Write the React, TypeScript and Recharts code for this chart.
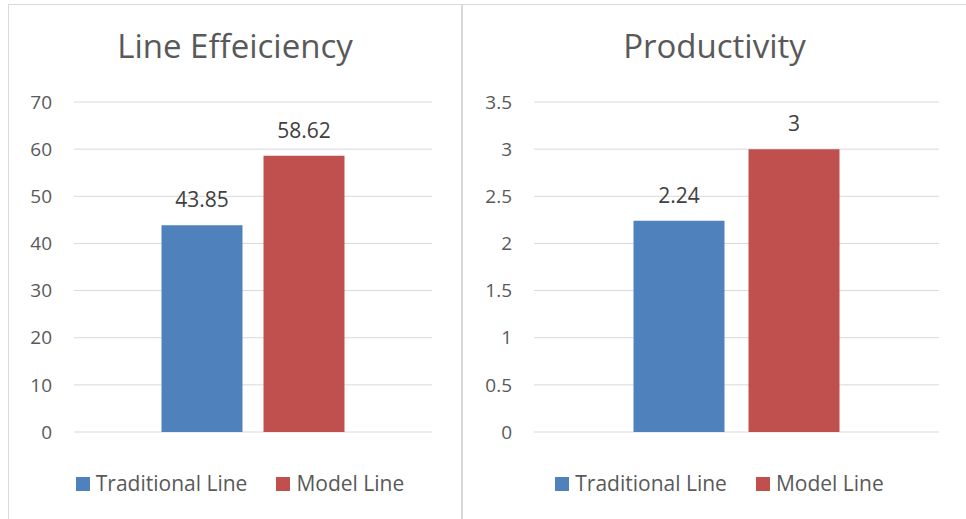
import { BarChart, Bar, XAxis, YAxis, CartesianGrid, LabelList } from "recharts";

const seriesNames = ["Traditional Line", "Model Line"];
const seriesColors = ["#4F81BD", "#C0504D"];

const efficiencyTitle = "Line Effeiciency";
const efficiencyValues = [43.85, 58.62];
const efficiencyTicks = [0, 10, 20, 30, 40, 50, 60, 70];

const productivityTitle = "Productivity";
const productivityValues = [2.24, 3];
const productivityTicks = [0, 0.5, 1, 1.5, 2, 2.5, 3, 3.5];

const font = "'Open Sans', 'DejaVu Sans', sans-serif";

type PanelProps = {
  title: string;
  values: number[];
  ticks: number[];
  left: number;
  width: number;
  axisWidth: number;
  rightMargin: number;
  gap: number;
  barGap: number;
};

function Panel({ title, values, ticks, left, width, axisWidth, rightMargin, gap, barGap }: PanelProps) {
  const data = [{ name: title, traditional: values[0], model: values[1] }];
  const max = ticks[ticks.length - 1];
  return (
    <div
      style={{
        position: "absolute",
        left,
        top: 4,
        width,
        height: 530,
        boxSizing: "border-box",
        border: "1px solid #d9d9d9",
        background: "#fff",
      }}
    >
      <div
        style={{
          position: "absolute",
          left: 0,
          right: 0,
          top: 21,
          textAlign: "center",
          fontSize: 33,
          lineHeight: "40px",
          color: "#595959",
        }}
      >
        {title}
      </div>
      <div style={{ position: "absolute", left: 0, top: 0 }}>
        <BarChart
          width={width - 2}
          height={520}
          data={data}
          margin={{ top: 97, right: rightMargin, bottom: 93, left: 0 }}
          barCategoryGap={gap}
          barGap={barGap}
        >
          <CartesianGrid vertical={false} stroke="#d9d9d9" />
          <XAxis dataKey="name" hide />
          <YAxis
            domain={[0, max]}
            ticks={ticks}
            width={axisWidth}
            axisLine={false}
            tickLine={false}
            tickMargin={16}
            tick={{ fill: "#595959", fontSize: 19 }}
          />
          <Bar dataKey="traditional" fill={seriesColors[0]} isAnimationActive={false}>
            <LabelList dataKey="traditional" position="top" offset={18} fill="#404040" fontSize={21} />
          </Bar>
          <Bar dataKey="model" fill={seriesColors[1]} isAnimationActive={false}>
            <LabelList dataKey="model" position="top" offset={18} fill="#404040" fontSize={21} />
          </Bar>
        </BarChart>
      </div>
      <div
        style={{
          position: "absolute",
          left: 10,
          right: 0,
          top: 468,
          display: "flex",
          justifyContent: "center",
          gap: 29,
          fontSize: 21,
          lineHeight: "21px",
          color: "#595959",
        }}
      >
        {seriesNames.map((name, i) => (
          <div key={name} style={{ display: "flex", alignItems: "center", gap: 6 }}>
            <span style={{ width: 14, height: 14, background: seriesColors[i], display: "inline-block" }} />
            <span>{name}</span>
          </div>
        ))}
      </div>
    </div>
  );
}

export default function App() {
  return (
    <div
      style={{
        position: "absolute",
        left: 0,
        top: 0,
        width: 966,
        height: 519,
        overflow: "hidden",
        background: "#fff",
        fontFamily: font,
      }}
    >
      <Panel
        title={efficiencyTitle}
        values={efficiencyValues}
        ticks={efficiencyTicks}
        left={8}
        width={454}
        axisWidth={65}
        rightMargin={29}
        gap={87.5}
        barGap={21}
      />
      <Panel
        title={productivityTitle}
        values={productivityValues}
        ticks={productivityTicks}
        left={462}
        width={505}
        axisWidth={71}
        rightMargin={27}
        gap={99.5}
        barGap={24}
      />
    </div>
  );
}
